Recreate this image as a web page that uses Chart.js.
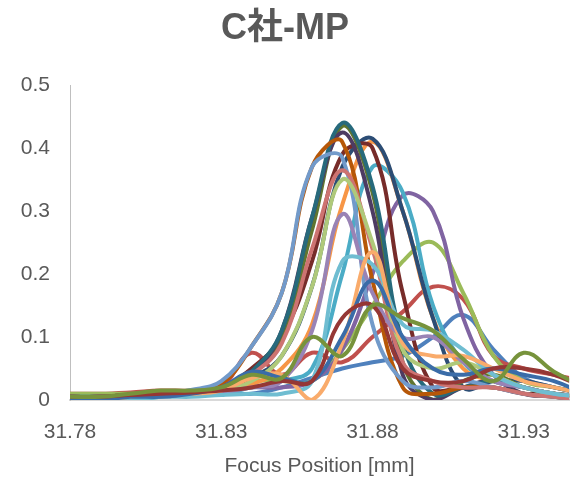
<!DOCTYPE html>
<html>
<head>
<meta charset="utf-8">
<script src="https://cdn.jsdelivr.net/npm/chart.js@4.4.1/dist/chart.umd.min.js"></script>
<style>
  html, body { margin: 0; padding: 0; background: #fff; }
  #wrap { width: 570px; height: 479px; }
</style>
</head>
<body>
<div id="wrap"><canvas id="chart"></canvas></div>
<script>
// focus positions (mm), 0.01 step
var positions = [31.78, 31.79, 31.80, 31.81, 31.82, 31.83, 31.84, 31.85, 31.86,
  31.87, 31.88, 31.89, 31.90, 31.91, 31.92, 31.93, 31.94, 31.95]
var xTickValues = [31.78, 31.83, 31.88, 31.93]
var yTickValues = [0, 0.1, 0.2, 0.3, 0.4, 0.5]

var s1 = [0.005, 0.005, 0.005, 0.008, 0.01, 0.012, 0.01, 0.02, 0.035, 0.05, 0.06, 0.07, 0.1, 0.135, 0.08, 0.035, 0.02, 0.01]
var s2 = [0.01, 0.01, 0.012, 0.015, 0.015, 0.02, 0.075, 0.04, 0.075, 0.06, 0.1, 0.14, 0.18, 0.16, 0.07, 0.05, 0.04, 0.03]
var s3 = [0.01, 0.01, 0.01, 0.012, 0.015, 0.02, 0.03, 0.03, 0.03, 0.08, 0.15, 0.22, 0.25, 0.17, 0.07, 0.03, 0.02, 0.01]
var s4 = [0, 0, 0.005, 0.005, 0.01, 0.015, 0.02, 0.02, 0.03, 0.08, 0.2, 0.325, 0.3, 0.13, 0.04, 0.02, 0.01, 0.005]
var s5 = [0, 0, 0, 0.005, 0.01, 0.01, 0.02, 0.03, 0.05, 0.2, 0.37, 0.33, 0.15, 0.06, 0.03, 0.02, 0.01, 0.005]
var s6 = [0, 0, 0.005, 0.005, 0.01, 0.015, 0.025, 0.05, 0.12, 0.31, 0.41, 0.3, 0.13, 0.05, 0.03, 0.02, 0.01, 0.005]
var s7 = [0, 0, 0.005, 0.005, 0.01, 0.015, 0.035, 0.07, 0.18, 0.37, 0.415, 0.3, 0.13, 0.02, 0.03, 0.03, 0.02, 0.01]
var s8 = [0.005, 0.005, 0.008, 0.01, 0.012, 0.02, 0.05, 0.1, 0.22, 0.39, 0.4, 0.17, 0.02, 0.02, 0.02, 0.01, 0.01, 0.005]
var s9 = [0.005, 0.005, 0.008, 0.01, 0.012, 0.018, 0.04, 0.1, 0.27, 0.435, 0.33, 0.06, 0, 0.03, 0.04, 0.02, 0.01, 0.005]
var s10 = [0, 0, 0.005, 0.005, 0.01, 0.018, 0.04, 0.11, 0.29, 0.425, 0.3, 0.04, 0, 0.02, 0.03, 0.01, 0.005, 0]
var s11 = [0.005, 0.005, 0.005, 0.008, 0.01, 0.018, 0.045, 0.11, 0.29, 0.44, 0.34, 0.09, 0.01, 0.02, 0.03, 0.02, 0.01, 0.005]
var s12 = [0.005, 0.005, 0.008, 0.01, 0.014, 0.025, 0.085, 0.17, 0.37, 0.41, 0.19, 0.02, 0.01, 0.02, 0.02, 0.01, 0.005, 0]
var s13 = [0.005, 0.005, 0.008, 0.01, 0.016, 0.03, 0.085, 0.17, 0.37, 0.385, 0.12, 0.03, 0.02, 0.03, 0.02, 0.01, 0.005, 0]
var s14 = [0, 0, 0.005, 0.005, 0.01, 0.018, 0.04, 0.09, 0.24, 0.365, 0.24, 0.06, 0.03, 0.02, 0.02, 0.01, 0.005, 0]
var s15 = [0, 0, 0.005, 0.005, 0.01, 0.015, 0.03, 0.07, 0.18, 0.35, 0.25, 0.08, 0.05, 0.06, 0.04, 0.02, 0.01, 0.005]
var s16 = [0, 0, 0.005, 0.005, 0.008, 0.012, 0.02, 0.03, 0.11, 0.295, 0.17, 0.1, 0.1, 0.06, 0.03, 0.02, 0.01, 0.005]
var s17 = [0, 0, 0, 0.005, 0.005, 0.008, 0.01, 0.01, 0.03, 0.22, 0.215, 0.12, 0.11, 0.08, 0.04, 0.02, 0.01, 0.005]
var s18 = [0, 0, 0.005, 0.01, 0.01, 0.015, 0.035, 0.04, 0, 0.09, 0.235, 0.09, 0.07, 0.07, 0.05, 0.03, 0.02, 0.01]
var s19 = [0, 0, 0.005, 0.005, 0.01, 0.02, 0.045, 0.035, 0.03, 0.1, 0.19, 0.1, 0.05, 0.04, 0.05, 0.04, 0.03, 0.01]
var s20 = [0.005, 0.005, 0.008, 0.01, 0.012, 0.015, 0.02, 0.03, 0.03, 0.13, 0.15, 0.05, 0.03, 0.03, 0.05, 0.05, 0.04, 0.02]
var s21 = [0.005, 0.005, 0.01, 0.015, 0.015, 0.02, 0.04, 0.035, 0.1, 0.07, 0.15, 0.13, 0.11, 0.065, 0.03, 0.075, 0.045, 0.02]

var seriesList = [s1, s2, s3, s4, s5, s6, s7, s8, s9, s10, s11, s12, s13, s14, s15, s16, s17, s18, s19, s20, s21]
var colors = ['#4F81BD', '#C0504D', '#9BBB59', '#8064A2', '#4BACC6', '#F79646',
  '#2C4D75', '#772C2A', '#5F7530', '#4D3B62', '#276A7C', '#B65708',
  '#729ACA', '#CD7371', '#AFC97A', '#9983B5', '#6FBDD1', '#F9AB6B',
  '#3A6CA8', '#953735', '#77933C']

var textColor = '#595959'
var fontFamily = '"Liberation Sans", Arial, "Noto Sans CJK JP", sans-serif'

var datasets = []
for (var i = 0; i < seriesList.length; i++) {
  var pts = []
  for (var j = 0; j < positions.length; j++) {
    pts.push({ x: positions[j], y: seriesList[i][j] })
  }
  datasets.push({
    label: 'S' + (i + 1),
    data: pts,
    borderColor: colors[i],
    backgroundColor: colors[i],
    borderWidth: 4,
    pointRadius: 0,
    tension: 0.4,
    fill: false,
    order: seriesList.length - i // later series on top, like Excel
  })
}

new Chart(document.getElementById('chart'), {
  type: 'line',
  data: { datasets: datasets },
  options: {
    responsive: true,
    maintainAspectRatio: false,
    animation: false,
    layout: { padding: { left: 0, right: 0, top: 0, bottom: 0 } },
    plugins: {
      legend: { display: false },
      tooltip: { enabled: false },
      title: {
        display: true,
        text: 'C社-MP',
        color: textColor,
        font: { family: fontFamily, size: 36, weight: 'bold' },
        padding: { top: 7, bottom: 35 }
      }
    },
    scales: {
      x: {
        type: 'linear',
        min: 31.78,
        max: 31.945,
        afterBuildTicks: function (scale) {
          scale.ticks = xTickValues.map(function (v) { return { value: v } })
        },
        afterFit: function (scale) { scale.height = 79 },
        grid: { display: false, drawTicks: false },
        border: { display: true, color: '#D9D9D9', width: 2 },
        ticks: {
          color: textColor,
          padding: 20,
          maxRotation: 0,
          font: { family: fontFamily, size: 21 },
          callback: function (v) { return v.toFixed(2) }
        },
        title: {
          display: true,
          text: 'Focus Position [mm]',
          color: textColor,
          padding: { top: 0, bottom: 0 },
          font: { family: fontFamily, size: 21 }
        }
      },
      y: {
        min: 0,
        max: 0.5,
        afterBuildTicks: function (scale) {
          scale.ticks = yTickValues.map(function (v) { return { value: v } })
        },
        afterFit: function (scale) { scale.width = 70 },
        grid: { display: false, drawTicks: false },
        border: { display: true, color: '#BFBFBF', width: 1 },
        ticks: {
          color: textColor,
          padding: 20,
          font: { family: fontFamily, size: 21 },
          callback: function (v) { return v === 0 ? '0' : v.toFixed(1) }
        }
      }
    }
  }
})
</script>
</body>
</html>
